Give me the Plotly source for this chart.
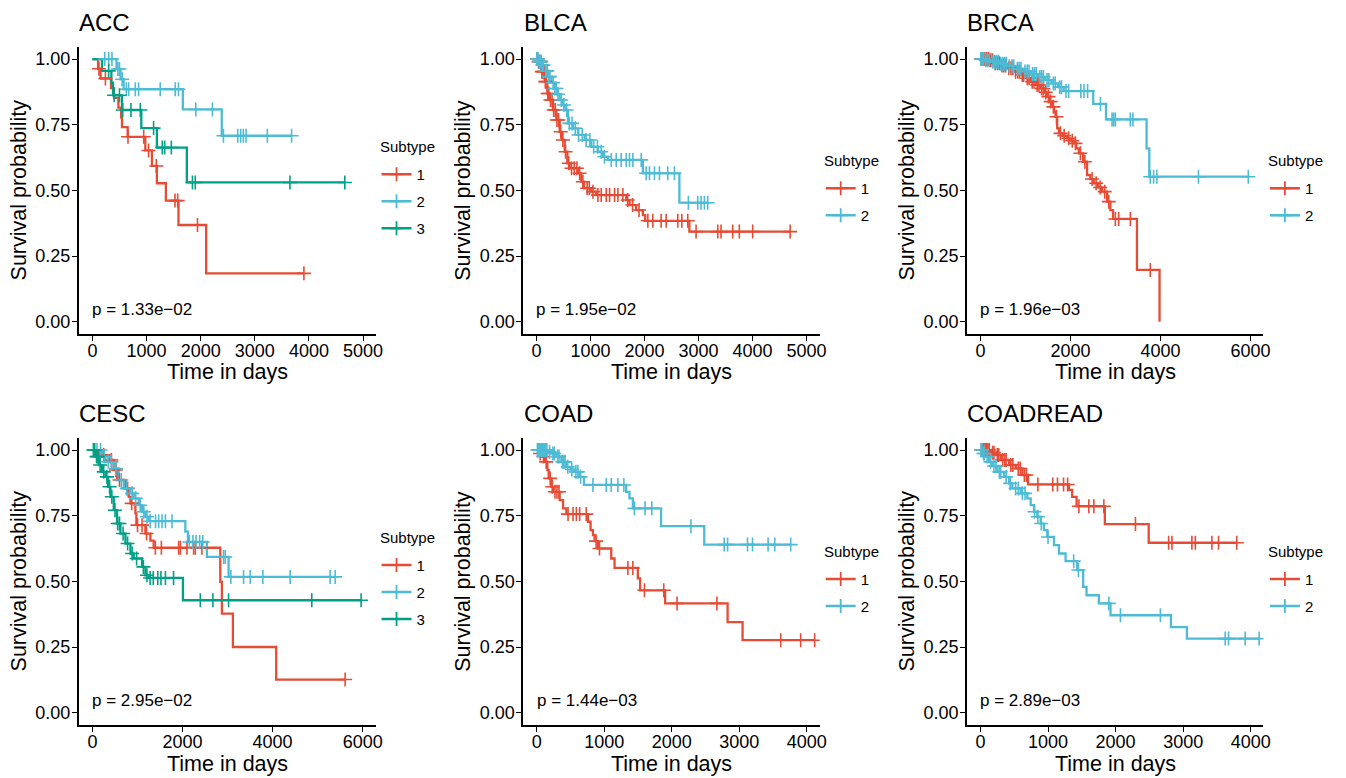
import numpy as np
import plotly.graph_objects as go

W, H = 1346, 778
RED, BLUE, GREEN = "#E64B35", "#4DBBD5", "#00A087"
FONT = "Liberation Sans, Arial, sans-serif"

# ---------------- ACC ----------------
acc_s1_time = [104, 150, 343, 400, 480, 530, 546, 651, 977, 1099, 1191, 1357, 1590, 2101]
acc_s1_surv = [0.963, 0.926, 0.889, 0.852, 0.815, 0.778, 0.741, 0.704, 0.652, 0.593, 0.527, 0.461, 0.368, 0.184]
acc_s1_cens = [120, 240, 657, 947, 1037, 1180, 1525, 1575, 1941, 3907]

acc_s2_time = [445, 520, 577, 1670, 2389]
acc_s2_surv = [0.962, 0.923, 0.885, 0.808, 0.708]
acc_s2_cens = [227, 300, 361, 470, 500, 550, 627, 669, 792, 853, 1253, 1530, 1590, 1910, 2217,
               2420, 2684, 2739, 2788, 2838, 3231, 3679]

acc_s3_time = [177, 350, 380, 546, 903, 1191, 1744]
acc_s3_surv = [0.955, 0.91, 0.862, 0.806, 0.737, 0.663, 0.53]
acc_s3_cens = [300, 400, 500, 560, 712, 884, 1130, 1290, 1335, 1458, 1848, 1900, 3649, 4663]

# ---------------- BLCA ----------------
blca_s1_time = [31, 92, 154, 203, 246, 308, 370, 431, 474, 524, 573, 616, 770, 831, 881, 1016,
                1108, 1663, 1724, 1847, 1971, 2014, 2832]
blca_s1_surv = [0.99, 0.952, 0.914, 0.869, 0.844, 0.806, 0.768, 0.723, 0.692, 0.647, 0.603, 0.584,
                0.565, 0.533, 0.508, 0.495, 0.482, 0.463, 0.444, 0.425, 0.406, 0.384, 0.343]
blca_s1_cens = [15, 40, 60, 80, 100, 120, 140, 165, 185, 210, 230, 260, 290, 320, 350, 380, 410,
                450, 490, 540, 600, 650, 700, 750, 800, 860, 940, 980, 1047, 1139, 1200, 1293,
                1355, 1447, 1509, 1601, 1690, 1780, 1900, 2063, 2155, 2309, 2402, 2617, 2692,
                2802, 2956, 3357, 3418, 3634, 3757, 4004, 4698]

blca_s2_time = [40, 92, 150, 216, 280, 339, 390, 431, 480, 524, 585, 678, 770, 893, 1016, 1139,
                1232, 1324, 1971, 2647]
blca_s2_surv = [0.99, 0.977, 0.955, 0.933, 0.91, 0.888, 0.866, 0.844, 0.825, 0.806, 0.755, 0.736,
                0.711, 0.692, 0.666, 0.647, 0.628, 0.616, 0.565, 0.453]
blca_s2_cens = [10, 30, 50, 70, 90, 110, 130, 175, 200, 225, 250, 310, 340, 370, 400, 460, 510,
                560, 610, 660, 720, 780, 850, 920, 990, 1060, 1130, 1200, 1260, 1386, 1478, 1570,
                1663, 1724, 1786, 1940, 2032, 2093, 2186, 2278, 2432, 2555, 2814, 2987, 3048,
                3110, 3172]

# ---------------- BRCA ----------------
brca_s1_time = [200, 303, 450, 598, 750, 894, 1000, 1116, 1230, 1337, 1420, 1483, 1540, 1594,
                1640, 1668, 1705, 1742, 1830, 1926, 2000, 2074, 2130, 2185, 2281, 2369, 2440,
                2517, 2610, 2701, 2812, 2886, 2945, 3476, 3978]
brca_s1_surv = [0.995, 0.984, 0.975, 0.965, 0.952, 0.939, 0.927, 0.914, 0.901, 0.888, 0.873,
                0.857, 0.838, 0.818, 0.799, 0.78, 0.736, 0.717, 0.708, 0.698, 0.689, 0.679, 0.66,
                0.641, 0.609, 0.558, 0.543, 0.527, 0.511, 0.495, 0.457, 0.425, 0.391, 0.197, 0.0]
brca_s1_cens = [20, 60, 100, 140, 180, 230, 270, 330, 380, 420, 480, 520, 560, 630, 680, 720,
                780, 830, 870, 930, 960, 1040, 1080, 1150, 1190, 1260, 1300, 1360, 1400, 1450,
                1510, 1560, 1620, 1690, 1780, 1860, 1960, 2040, 2110, 2220, 2320, 2480, 2570,
                2660, 2760, 2850, 2997, 3071, 3330, 3772]

brca_s2_time = [100, 250, 420, 600, 780, 950, 1120, 1280, 1430, 1580, 1720, 1850, 2505, 2790,
                3690, 3750]
brca_s2_surv = [0.995, 0.99, 0.982, 0.973, 0.963, 0.953, 0.943, 0.932, 0.92, 0.907, 0.893, 0.878,
                0.829, 0.770, 0.660, 0.552]
brca_s2_cens = [10, 40, 70, 120, 160, 200, 280, 320, 360, 400, 450, 500, 540, 580, 640, 700, 740,
                820, 860, 900, 990, 1040, 1080, 1160, 1200, 1240, 1320, 1360, 1400, 1480, 1520,
                1620, 1660, 1760, 1800, 1900, 1960, 2230, 2300, 2380, 2665, 2923, 2960, 2997,
                3329, 3387, 3772, 3846, 3918, 4842, 5949]

# ---------------- CESC ----------------
cesc_s1_time = [140, 361, 472, 545, 732, 805, 843, 953, 975, 1175, 1286, 1359, 2838, 2874, 3118,
                4080]
cesc_s1_surv = [0.981, 0.962, 0.924, 0.886, 0.854, 0.822, 0.797, 0.759, 0.714, 0.682, 0.655,
                0.628, 0.498, 0.377, 0.25, 0.126]
cesc_s1_cens = [250, 420, 520, 600, 780, 870, 1000, 1100, 1200, 1397, 1530, 1914, 1951, 2098,
                2246, 2284, 2430, 5610]

cesc_s2_time = [213, 288, 472, 583, 694, 843, 916, 1027, 1100, 1175, 1248, 2062, 2120, 2541, 3022]
cesc_s2_surv = [0.975, 0.955, 0.93, 0.886, 0.854, 0.835, 0.816, 0.79, 0.765, 0.746, 0.729, 0.689,
                0.65, 0.593, 0.517]
cesc_s2_cens = [30, 100, 180, 260, 350, 420, 520, 640, 760, 880, 960, 1060, 1140, 1210, 1280,
                1400, 1470, 1545, 1620, 1766, 2150, 2230, 2300, 2380, 2450, 2911, 2949, 3073,
                3355, 3503, 3783, 4390, 5277, 5388]

cesc_s3_time = [67, 140, 213, 288, 346, 399, 472, 545, 621, 732, 843, 916, 1100, 1175, 1248, 2009]
cesc_s3_surv = [0.975, 0.943, 0.917, 0.898, 0.86, 0.822, 0.771, 0.72, 0.682, 0.644, 0.606, 0.587,
                0.555, 0.523, 0.513, 0.428]
cesc_s3_cens = [20, 50, 90, 120, 170, 250, 320, 380, 430, 500, 560, 600, 680, 780, 880, 980,
                1130, 1210, 1280, 1350, 1450, 1520, 1620, 1800, 2395, 2674, 3022, 4870, 5965]

# ---------------- COAD ----------------
coad_s1_time = [20, 69, 118, 158, 177, 217, 242, 340, 390, 439, 759, 798, 833, 857, 907, 1104,
                1153, 1498, 1532, 1902, 2828, 3050]
coad_s1_surv = [0.987, 0.975, 0.955, 0.924, 0.892, 0.86, 0.841, 0.809, 0.778, 0.756, 0.727,
                0.695, 0.676, 0.653, 0.625, 0.587, 0.551, 0.511, 0.466, 0.416, 0.345, 0.276]
coad_s1_cens = [50, 100, 140, 200, 230, 270, 300, 330, 464, 538, 587, 636, 734, 880, 930, 1350,
                1424, 1596, 1882, 2079, 2670, 3616, 3911, 4118]

coad_s2_time = [168, 217, 291, 365, 439, 500, 562, 635, 700, 1325, 1374, 1424, 1842, 2482]
coad_s2_surv = [0.993, 0.987, 0.975, 0.955, 0.936, 0.926, 0.917, 0.898, 0.867, 0.841, 0.816,
                0.778, 0.71, 0.64]
coad_s2_cens = [10, 25, 40, 55, 70, 85, 100, 115, 130, 150, 190, 240, 260, 310, 330, 380, 400,
                420, 460, 520, 580, 610, 650, 833, 1030, 1104, 1202, 1291, 1448, 1606, 1705,
                2285, 2778, 2828, 3123, 3197, 3428, 3527, 3763]

# ---------------- COADREAD ----------------
coadread_s1_time = [153, 227, 301, 424, 522, 620, 704, 1309, 1358, 1423, 1841, 2490]
coadread_s1_surv = [0.99, 0.981, 0.962, 0.943, 0.93, 0.905, 0.869, 0.848, 0.822, 0.786, 0.718,
                    0.647]
coadread_s1_cens = [15, 35, 50, 70, 90, 110, 130, 180, 200, 250, 270, 330, 360, 380, 450, 480,
                    560, 590, 650, 680, 850, 1070, 1140, 1230, 1290, 1457, 1604, 1678, 1826,
                    2294, 2785, 2834, 3129, 3180, 3425, 3523, 3793]

coadread_s2_time = [30, 80, 128, 177, 251, 350, 424, 472, 596, 694, 744, 793, 841, 891, 940, 989,
                    1088, 1162, 1260, 1432, 1520, 1570, 1752, 1925, 2819, 3055]
coadread_s2_surv = [0.987, 0.975, 0.955, 0.939, 0.917, 0.898, 0.873, 0.854, 0.835, 0.816, 0.79,
                    0.765, 0.746, 0.72, 0.695, 0.669, 0.638, 0.606, 0.577, 0.543, 0.479, 0.447,
                    0.416, 0.371, 0.326, 0.282]
coadread_s2_cens = [10, 25, 45, 60, 100, 150, 200, 230, 280, 300, 380, 440, 520, 560, 620, 660,
                    800, 850, 900, 1000, 1380, 1450, 1900, 2072, 2663, 3622, 3671, 3917, 4124]

y_ticks = [0, 0.25, 0.5, 0.75, 1.0]
y_labels = ["0.00", "0.25", "0.50", "0.75", "1.00"]

# panel layout: plot-area box in pixels (left, top, right, bottom)
cols = [(79.2, 377.7), (525.9, 824.0), (971.9, 1270.0)]
rows = [(46.7, 334.0), (437.7, 725.0)]

# legend placement: (left edge, centre of "Subtype" title, centre of first key row)
panels = [
    dict(title="ACC", pval="p = 1.33e\u221202", xr=[-252, 5234], dtick=1000, r=0, c=0,
         curves=[("1", RED, acc_s1_time, acc_s1_surv, acc_s1_cens),
                 ("2", BLUE, acc_s2_time, acc_s2_surv, acc_s2_cens),
                 ("3", GREEN, acc_s3_time, acc_s3_surv, acc_s3_cens)],
         leg=(378.5, 146.7, 174.3)),
    dict(title="BLCA", pval="p = 1.95e\u221202", xr=[-245, 5245], dtick=1000, r=0, c=1,
         curves=[("1", RED, blca_s1_time, blca_s1_surv, blca_s1_cens),
                 ("2", BLUE, blca_s2_time, blca_s2_surv, blca_s2_cens)],
         leg=(825.0, 160.0, 188.3)),
    dict(title="BRCA", pval="p = 1.96e\u221203", xr=[-301, 6284], dtick=2000, r=0, c=2,
         curves=[("1", RED, brca_s1_time, brca_s1_surv, brca_s1_cens),
                 ("2", BLUE, brca_s2_time, brca_s2_surv, brca_s2_cens)],
         leg=(1271.5, 160.0, 188.3)),
    dict(title="CESC", pval="p = 2.95e\u221202", xr=[-304, 6290], dtick=2000, r=1, c=0,
         curves=[("1", RED, cesc_s1_time, cesc_s1_surv, cesc_s1_cens),
                 ("2", BLUE, cesc_s2_time, cesc_s2_surv, cesc_s2_cens),
                 ("3", GREEN, cesc_s3_time, cesc_s3_surv, cesc_s3_cens)],
         leg=(378.5, 537.7, 565.0)),
    dict(title="COAD", pval="p = 1.44e\u221203", xr=[-201, 4193], dtick=1000, r=1, c=1,
         curves=[("1", RED, coad_s1_time, coad_s1_surv, coad_s1_cens),
                 ("2", BLUE, coad_s2_time, coad_s2_surv, coad_s2_cens)],
         leg=(825.0, 551.0, 579.0)),
    dict(title="COADREAD", pval="p = 2.89e\u221203", xr=[-201, 4187], dtick=1000, r=1, c=2,
         curves=[("1", RED, coadread_s1_time, coadread_s1_surv, coadread_s1_cens),
                 ("2", BLUE, coadread_s2_time, coadread_s2_surv, coadread_s2_cens)],
         leg=(1271.5, 551.0, 579.0)),
]


def km_path(times, surv, cens):
    """Kaplan-Meier step path starting at (0, 1)."""
    t_end = max(max(times), max(cens))
    return [0.0] + list(times) + [t_end], [1.0] + list(surv) + [surv[-1]]


def level_at(times, surv, c):
    idx = int(np.searchsorted(np.asarray(times), c, side="right")) - 1
    return 1.0 if idx < 0 else surv[idx]


fig = go.Figure()
layout = dict(
    width=W, height=H, margin=dict(l=0, r=0, t=0, b=0),
    paper_bgcolor="white", plot_bgcolor="white",
    font=dict(family=FONT, color="black"),
    showlegend=True, annotations=[],
)

for i, p in enumerate(panels):
    n = "" if i == 0 else str(i + 1)
    xa, ya = "x" + n, "y" + n
    leg = "legend" + n
    x0, x1 = cols[p["c"]]
    y0, y1 = rows[p["r"]]

    layout["xaxis" + n] = dict(
        domain=[x0 / W, x1 / W], anchor=ya, range=p["xr"], dtick=p["dtick"], tick0=0,
        tickformat="d", showgrid=False, zeroline=False, showline=True, linecolor="black",
        linewidth=1.6, ticks="outside", ticklen=5, tickwidth=1.4, tickcolor="black",
        ticklabelstandoff=-5,
        tickfont=dict(size=18, color="black", family=FONT), fixedrange=True)
    layout["yaxis" + n] = dict(
        domain=[1 - y1 / H, 1 - y0 / H], anchor=xa, range=[-0.047, 1.047],
        tickvals=y_ticks, ticktext=y_labels, showgrid=False, zeroline=False, showline=True,
        linecolor="black", linewidth=1.6, ticks="outside", ticklen=5, tickwidth=1.4,
        tickcolor="black", ticklabelstandoff=-2,
        tickfont=dict(size=18, color="black", family=FONT), fixedrange=True)

    # survival step curves
    for name, color, t, s, cz in p["curves"]:
        px_, py_ = km_path(t, s, cz)
        fig.add_trace(go.Scatter(x=px_, y=py_, mode="lines", line=dict(color=color, width=2.3, shape="hv"),
                                 xaxis=xa, yaxis=ya, showlegend=False, hoverinfo="skip"))
    # censoring marks
    for name, color, t, s, cz in p["curves"]:
        fig.add_trace(go.Scatter(
            x=cz, y=[level_at(t, s, c) for c in cz], mode="markers",
            marker=dict(symbol="cross-thin", size=10, color=color, line=dict(color=color, width=1.6)),
            xaxis=xa, yaxis=ya, showlegend=False, hoverinfo="skip"))
    # legend keys
    for name, color, t, s, cz in p["curves"]:
        fig.add_trace(go.Scatter(
            x=[None], y=[None], mode="lines+markers", name=name,
            line=dict(color=color, width=2.6),
            marker=dict(symbol="cross-thin", size=10, color=color, line=dict(color=color, width=1.8)),
            xaxis=xa, yaxis=ya, legend=leg, legendgroup=f"{p['title']}_{name}", showlegend=True))

    lx, ty, fy = p["leg"]
    layout[leg] = dict(
        x=lx / W, y=1 - (fy - 16.25) / H, xanchor="left", yanchor="top",
        bgcolor="rgba(0,0,0,0)", borderwidth=0,
        font=dict(size=15, color="black", family=FONT), traceorder="grouped",
        tracegroupgap=4.5, itemwidth=30, itemclick=False, itemdoubleclick=False)
    # legend title
    layout["annotations"].append(dict(
        text="Subtype", xref="paper", yref="paper", x=(lx + 3) / W, y=1 - ty / H,
        xanchor="left", yanchor="middle", showarrow=False, borderpad=0, borderwidth=0,
        font=dict(size=15, color="black", family=FONT)))

    # panel title
    layout["annotations"].append(dict(
        text=p["title"], xref="paper", yref="paper", x=(x0 + 0.5) / W, y=1 - (y0 - 24.2) / H,
        xanchor="left", yanchor="middle", showarrow=False, borderpad=0, borderwidth=0,
        font=dict(size=24, color="black", family=FONT)))
    # x-axis title
    layout["annotations"].append(dict(
        text="Time in days", xref="paper", yref="paper", x=(x0 + x1) / 2 / W,
        y=1 - (y1 + 38.5) / H, xanchor="center", yanchor="middle", showarrow=False,
        borderpad=0, borderwidth=0, font=dict(size=21.5, color="black", family=FONT)))
    # y-axis title
    layout["annotations"].append(dict(
        text="Survival probability", xref="paper", yref="paper", x=(x0 - 60) / W,
        y=1 - (y0 + y1) / 2 / H, xanchor="center", yanchor="middle", textangle=-90,
        showarrow=False, borderpad=0, borderwidth=0,
        font=dict(size=21.5, color="black", family=FONT)))
    # log-rank p-value
    layout["annotations"].append(dict(
        text=p["pval"], xref=xa, yref=ya, x=0, y=0.045, xanchor="left", yanchor="middle",
        showarrow=False, borderpad=0, borderwidth=0,
        font=dict(size=17, color="black", family=FONT)))

fig.update_layout(**layout)
fig.write_html("out.html", config={"displayModeBar": False})
